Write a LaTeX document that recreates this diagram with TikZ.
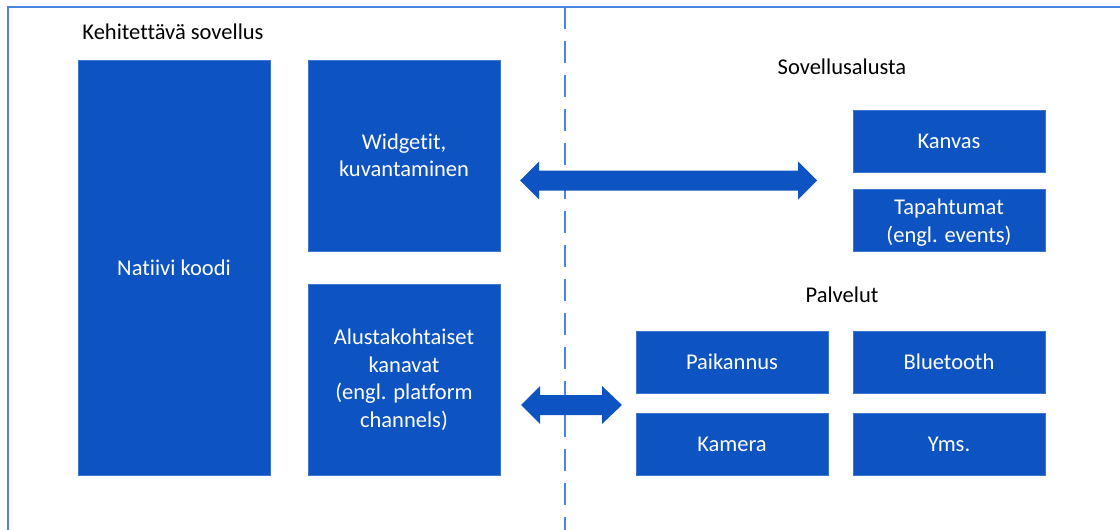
\documentclass[tikz,border=0pt]{standalone}
\usepackage{fontspec}
\usetikzlibrary{calc}
\setmainfont{Carlito}[Ligatures=NoCommon]
\definecolor{boxblue}{HTML}{0D54C2}
\definecolor{frameblue}{HTML}{4A86E0}
\begin{document}
\begin{tikzpicture}[x=1pt,y=-1pt,
  lbl/.style={font=\fontsize{22.5}{27.5}\selectfont, text=black, inner sep=0pt},
  box/.style={fill=boxblue, draw=boxblue!80!white, line width=0.6pt, text=white,
    align=center, font=\fontsize{22.5}{27.5}\selectfont, inner sep=0pt,
    minimum width=192pt},
  tall/.style={box, minimum height=415pt},
  mid/.style={box, minimum height=191pt},
  small/.style={box, minimum height=62pt},
  dblarrow/.style={fill=boxblue, draw=none}]
\useasboundingbox (0,0) rectangle (1120,530);
\fill[white] (0,0) rectangle (1120,530);

% outer frame and divider
\draw[frameblue, line width=2pt] (8,530) -- (8,7) -- (1120,7);
\draw[frameblue, line width=2pt, dash pattern=on 22pt off 12pt] (565,7) -- (565,530);

% headings
\node[lbl] (hApp) at (173,32) {Kehitettävä sovellus};
\node[lbl] (hPlat) at (842,67) {Sovellusalusta};
\node[lbl] (hServ) at (842,295) {Palvelut};

% application side
\node[tall] (native) at (174,267.5) {Natiivi koodi};
\node[mid] (widgets) at (404,155.5) {Widgetit,\\kuvantaminen};
\node[mid] (channels) at (404,379.5) {Alustakohtaiset\\kanavat\\(engl. platform\\channels)};

% platform side
\node[small] (canvas) at (949,141) {Kanvas};
\node[small, text depth=0pt] (events) at (949,220.5) {Tapahtumat\\(engl. events)};
\node[small] (location) at (732,362) {Paikannus};
\node[small] (camera) at (732,444) {Kamera};
\node[small] (bluetooth) at (949,362) {Bluetooth};
\node[small] (etc) at (949,444) {Yms.};

% two-headed block arrows
\coordinate (a1l) at (520,180.5);
\coordinate (a1r) at (817,180.5);
\fill[dblarrow] (a1l) -- ++(19,-19) -- ++(0,9) -- ($(a1r)+(-19,-10)$) -- ++(0,-9) -- (a1r)
  -- ++(-19,19) -- ++(0,-9) -- ($(a1l)+(19,10)$) -- ++(0,9) -- cycle;
\coordinate (a2l) at (521,405);
\coordinate (a2r) at (622,405);
\fill[dblarrow] (a2l) -- ++(19,-19) -- ++(0,9) -- ($(a2r)+(-20,-10)$) -- ++(0,-9) -- (a2r)
  -- ++(-20,19) -- ++(0,-9) -- ($(a2l)+(19,10)$) -- ++(0,9) -- cycle;
\end{tikzpicture}
\end{document}
